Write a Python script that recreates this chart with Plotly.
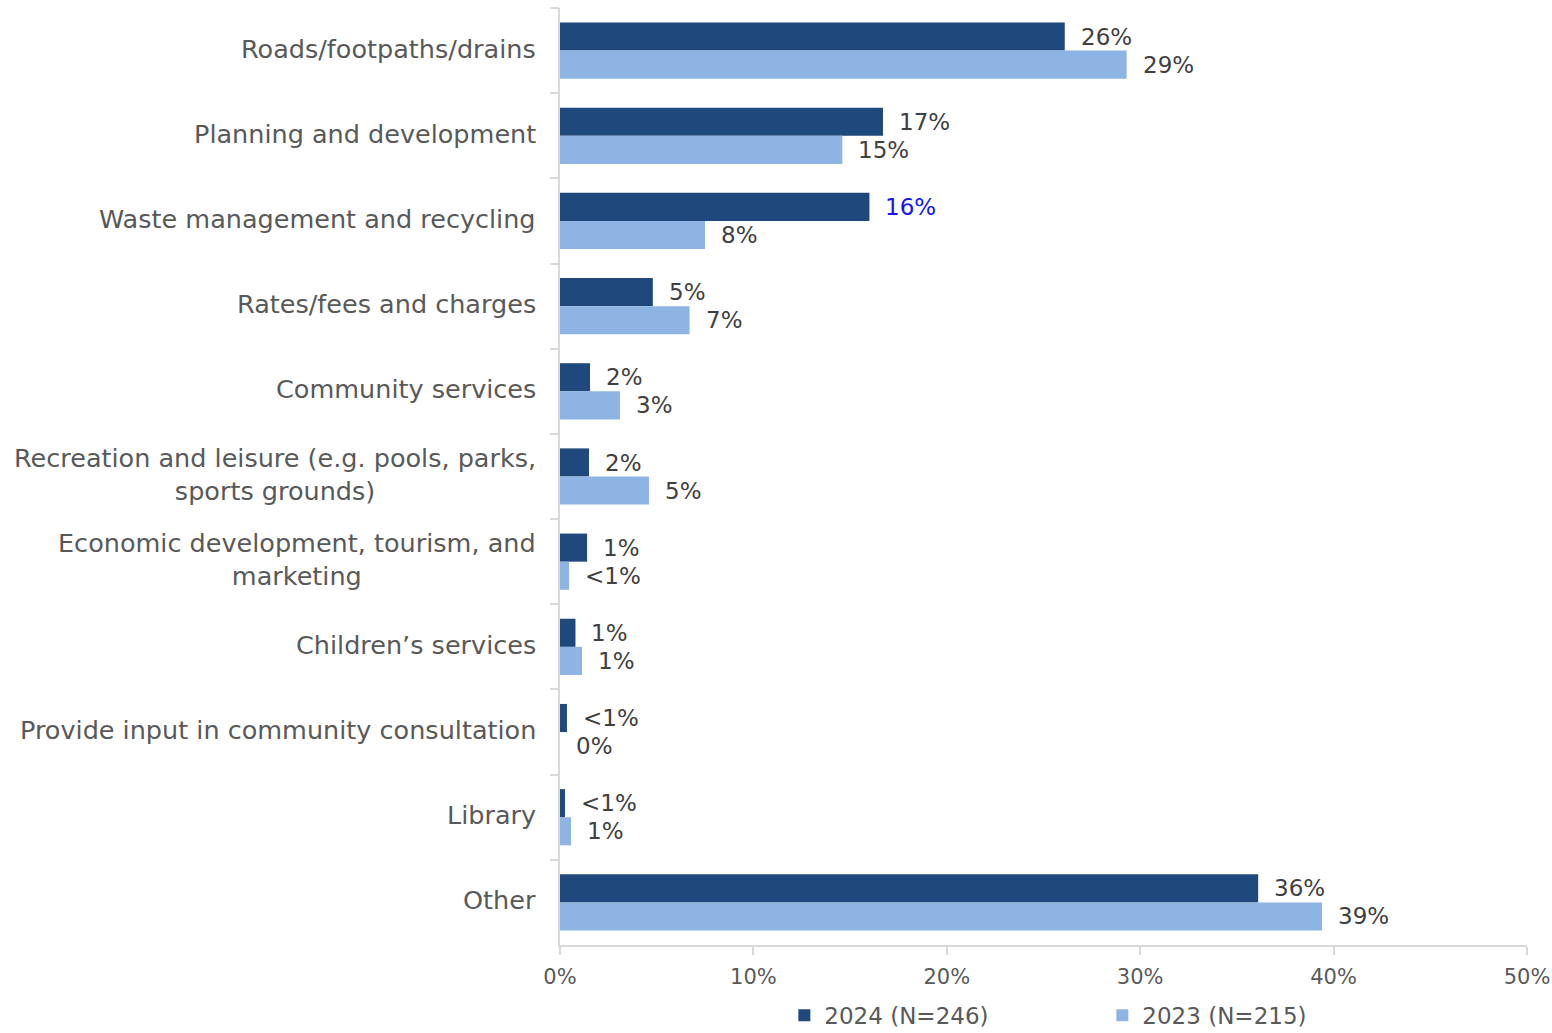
import plotly.graph_objects as go

categories = [
    "Roads/footpaths/drains",
    "Planning and development",
    "Waste management and recycling",
    "Rates/fees and charges",
    "Community services",
    "Recreation and leisure (e.g. pools, parks,<br>sports grounds)",
    "Economic development, tourism, and<br>marketing",
    "Children’s services",
    "Provide input in community consultation",
    "Library",
    "Other",
]

series_names = ["2024 (N=246)", "2023 (N=215)"]
values_2024 = [26.1, 16.7, 16.0, 4.8, 1.55, 1.5, 1.4, 0.8, 0.36, 0.26, 36.1]
values_2023 = [29.3, 14.6, 7.5, 6.7, 3.1, 4.6, 0.47, 1.14, 0.0, 0.57, 39.4]

x_ticks = [0, 10, 20, 30, 40, 50]
x_tick_labels = ["0%", "10%", "20%", "30%", "40%", "50%"]

DARK = "#1F497D"
LIGHT = "#8EB4E3"
TEXT = "#595959"
LABEL = "#404040"
AXIS = "#D9D9D9"
FONT = "DejaVu Sans"


def pct_label(v):
    if v == 0:
        return "0%"
    if v < 0.5:
        return "<1%"
    return f"{int(v + 0.5)}%"


fig = go.Figure()
fig.add_trace(go.Bar(
    y=categories, x=values_2024, orientation="h", name=series_names[0],
    marker=dict(color=DARK, line=dict(width=0)),
))
fig.add_trace(go.Bar(
    y=categories, x=values_2023, orientation="h", name=series_names[1],
    marker=dict(color=LIGHT, line=dict(width=0)),
))

annotations = []
# category labels, centred per line, left of the axis
for c in categories:
    annotations.append(dict(
        x=0, xref="paper", y=c, yref="y", text=c, showarrow=False,
        xanchor="right", yanchor="middle", align="center",
        xshift=-22, yshift=2,
        font=dict(family=FONT, size=25.5, color=TEXT),
    ))

# value labels beside each bar
for i, c in enumerate(categories):
    for vals, shift in ((values_2024, 14), (values_2023, -14)):
        color = LABEL
        if vals is values_2024 and i == 2:
            color = "#1414F0"
        annotations.append(dict(
            x=vals[i], xref="x", y=c, yref="y", text=pct_label(vals[i]),
            showarrow=False, xanchor="left", yanchor="middle",
            xshift=14, yshift=shift,
            font=dict(family=FONT, size=23, color=color),
        ))

fig.update_layout(
    width=1552, height=1033,
    margin=dict(l=560, r=25, t=8, b=88, autoexpand=False),
    paper_bgcolor="white", plot_bgcolor="white",
    barmode="group", bargap=0.34, bargroupgap=0,
    font=dict(family=FONT, color=TEXT),
    showlegend=True,
    legend=dict(
        orientation="h", x=0.232, xanchor="left", y=-0.075, yanchor="middle",
        font=dict(family=FONT, size=23, color=TEXT),
        entrywidth=273, entrywidthmode="pixels",
        itemwidth=30, traceorder="normal",
    ),
    annotations=annotations,
)

fig.update_xaxes(
    range=[0, 50], tickvals=x_ticks, ticktext=x_tick_labels,
    showgrid=False, zeroline=False,
    showline=True, linecolor=AXIS, linewidth=2,
    ticks="outside", ticklen=8, tickcolor=AXIS, tickwidth=2,
    ticklabelstandoff=4,
    tickfont=dict(family=FONT, size=21, color=TEXT),
)
fig.update_yaxes(
    autorange="reversed", type="category",
    showticklabels=False, showgrid=False, zeroline=False,
    showline=True, linecolor=AXIS, linewidth=2,
    ticks="outside", tickson="boundaries", ticklen=8, tickcolor=AXIS, tickwidth=2,
)

fig.write_html("out.html")
